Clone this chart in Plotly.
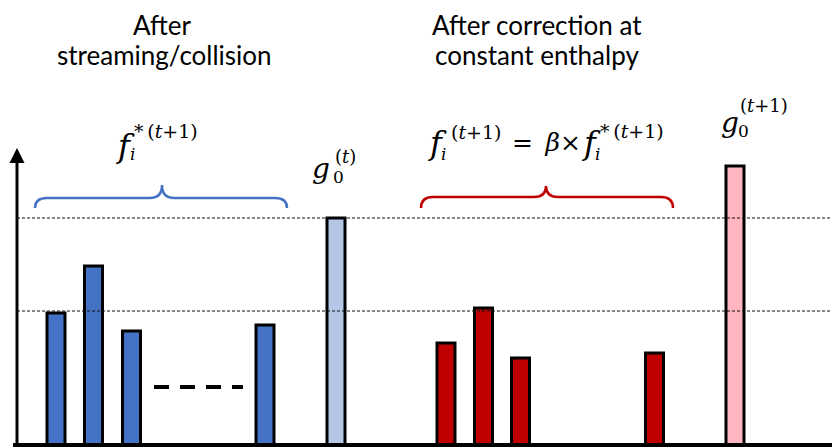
import plotly.graph_objects as go

# ---------------- data ----------------
blue_x = [56, 93.5, 131.5, 265]
blue_h = [132, 179, 114, 120]
g0_t_x = [336]
g0_t_h = [227]
red_x = [446, 483.5, 520.5, 654.5]
red_h = [102, 137, 87, 92]
g0_t1_x = [735]
g0_t1_h = [279]
ref_levels = [227, 134]
bar_width = 18

BLUE = "#4472C4"
LBLUE = "#B4C7E7"
RED = "#C00000"
PINK = "#FFB6C1"

fig = go.Figure()

def add_bars(xs, hs, color):
    fig.add_trace(go.Bar(
        x=xs, y=hs, width=[bar_width] * len(xs),
        marker=dict(color=color, line=dict(color="black", width=3)),
        showlegend=False, hoverinfo="skip"))

add_bars(blue_x, blue_h, BLUE)
add_bars(g0_t_x, g0_t_h, LBLUE)
add_bars(red_x, red_h, RED)
add_bars(g0_t1_x, g0_t1_h, PINK)

shapes = []
# dashed reference lines
for lv in ref_levels:
    shapes.append(dict(type="line", xref="x", yref="y", x0=17, x1=840, y0=lv, y1=lv,
                       line=dict(color="#111", width=1, dash="3px,2px"), layer="above"))
# baseline
shapes.append(dict(type="line", xref="x", yref="y", x0=13, x1=840, y0=0, y1=0,
                   line=dict(color="black", width=4), layer="above"))
# "- - - -" ellipsis
shapes.append(dict(type="line", xref="x", yref="y", x0=154, x1=243, y0=58, y1=58,
                   line=dict(color="black", width=4, dash="15px,11px"), layer="above"))
# braces
shapes.append(dict(type="path", xref="x", yref="y",
                   path="M 35,237 Q 35,247 47,247 L 150,247 Q 162,247 162,260 Q 162,247 174,247 L 275,247 Q 287,247 287,237",
                   line=dict(color=BLUE, width=2.5)))
shapes.append(dict(type="path", xref="x", yref="y",
                   path="M 421,237 Q 421,248 433,248 L 534,248 Q 546,248 546,259 Q 546,248 558,248 L 661,248 Q 673,248 673,237",
                   line=dict(color=RED, width=2.5)))

annotations = []
# y axis arrow
annotations.append(dict(x=17, y=297, ax=17, ay=0, xref="x", yref="y", axref="x", ayref="y",
                        text="", showarrow=True, arrowhead=2, arrowwidth=3, arrowsize=1,
                        arrowcolor="black", standoff=0, startstandoff=0))

TF = dict(family="Lato, sans-serif", size=26, color="black")
def title(x, y, t):
    annotations.append(dict(x=x, y=y, xref="x", yref="y", text=t, showarrow=False,
                            xanchor="center", yanchor="middle", font=TF))

title(162, 420, "After")
title(164, 390, "streaming/collision")
title(537, 420, "After correction at")
title(537, 390, "constant enthalpy")

MF = "DejaVu Serif, serif"
def mtext(x, y, t, size):
    annotations.append(dict(x=x, y=y, xref="x", yref="y", text=t, showarrow=False,
                            xanchor="left", yanchor="middle",
                            font=dict(family=MF, size=size, color="black"), borderpad=0))

# f_i^{*(t+1)} (blue)
mtext(115, 299, "<i>f</i>", 32)
mtext(129, 291, "<i>i</i>", 17)
mtext(133, 314, "*\u2009(<i>t</i>+1)", 19)
# g_0^{(t)}
mtext(311, 277, "<i>g</i>", 28)
mtext(332, 268, "0", 17)
mtext(334, 289, "(<i>t</i>)", 18)
# f_i^{(t+1)} = beta x f_i^{*(t+1)}
mtext(427, 302, "<i>f</i>", 32)
mtext(440, 291, "<i>i</i>", 17)
mtext(450, 313, "(<i>t</i>+1)", 19)
mtext(511, 303, "=\u2002<i>β</i>×", 25)
mtext(581, 302, "<i>f</i>", 32)
mtext(594, 291, "<i>i</i>", 17)
mtext(599, 314, "*\u2009(<i>t</i>+1)", 19)
# g_0^{(t+1)}
mtext(720, 323, "<i>g</i>", 28)
mtext(737, 314, "0", 17)
mtext(739, 340, "(<i>t</i>+1)", 18)

# the page body has an 8px margin: size the figure to fill the rest of the window
fig.update_layout(
    width=832, height=440,
    margin=dict(l=0, r=0, t=0, b=0),
    paper_bgcolor="white", plot_bgcolor="white",
    xaxis=dict(range=[8, 840], visible=False, fixedrange=True),
    yaxis=dict(range=[-3, 437], visible=False, fixedrange=True),
    barmode="overlay",
    shapes=shapes, annotations=annotations,
)

fig.write_html("out.html")
